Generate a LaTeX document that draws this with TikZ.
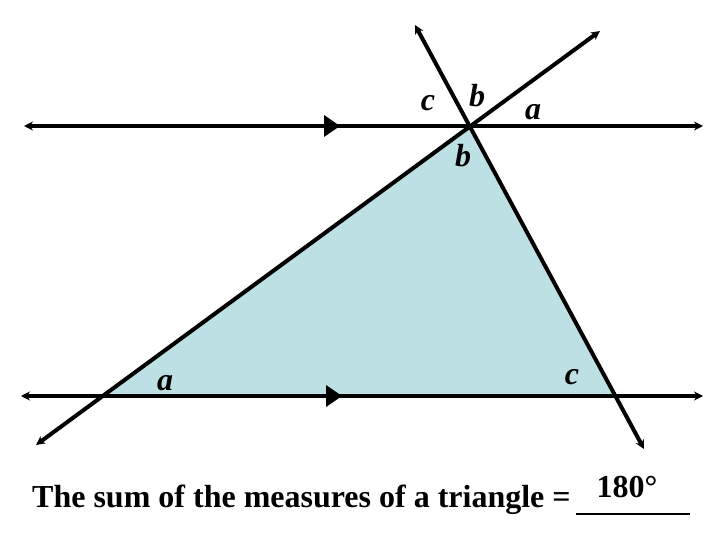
\documentclass[tikz,border=0pt]{standalone}
\usepackage{fontspec}
\setmainfont{Liberation Serif}
\usetikzlibrary{arrows.meta}
\definecolor{triblue}{HTML}{BCE0E4}
\tikzset{
  ray/.style={line width=4pt, {Stealth[length=9pt,width=9pt]}-{Stealth[length=9pt,width=9pt]}},
  lbl/.style={font=\fontsize{32}{34}\selectfont\bfseries\itshape, inner sep=0pt, anchor=base},
  txt/.style={font=\fontsize{32}{34}\selectfont\bfseries, inner sep=0pt},
  marker/.style={fill=black},
}
\begin{document}
\begin{tikzpicture}[x=1pt,y=-1pt]
\useasboundingbox (0,0) rectangle (720,540);
% vertices
\coordinate (A) at (103,396);
\coordinate (B) at (467,126);
\coordinate (C) at (613,396);
% line ends
\coordinate (T1) at (24,126);
\coordinate (T2) at (703,126);
\coordinate (L1) at (21,396);
\coordinate (L2) at (703,396);
\coordinate (P1) at (36,445);
\coordinate (P2) at (600,31);
\coordinate (Q1) at (415,25);
\coordinate (Q2) at (644,449);
% triangle
\fill[triblue] (A) -- (B) -- (C) -- cycle;
% lines
\draw[ray] (T1) -- (T2);
\draw[ray] (L1) -- (L2);
\draw[ray] (P1) -- (P2);
\draw[ray] (Q1) -- (Q2);
% parallel markers
\fill[marker] (324,115) -- (340,126) -- (324,137) -- cycle;
\fill[marker] (326,385) -- (342,396) -- (326,407) -- cycle;
% angle labels
\node[lbl] (lc1) at (428,111) {c};
\node[lbl] (lb1) at (477,107) {b};
\node[lbl] (la1) at (533,120) {a};
\node[lbl] (lb2) at (463,167) {b};
\node[lbl] (la2) at (165,390) {a};
\node[lbl] (lc2) at (572,384) {c};
% caption
\node[txt, anchor=base west] (cap) at (32,507) {The sum of the measures of a triangle =};
\node[txt, anchor=base] (ans) at (627,497) {180°};
\coordinate (U1) at (576,514);
\coordinate (U2) at (690,514);
\draw[line width=2.6pt] (U1) -- (U2);
\end{tikzpicture}
\end{document}
